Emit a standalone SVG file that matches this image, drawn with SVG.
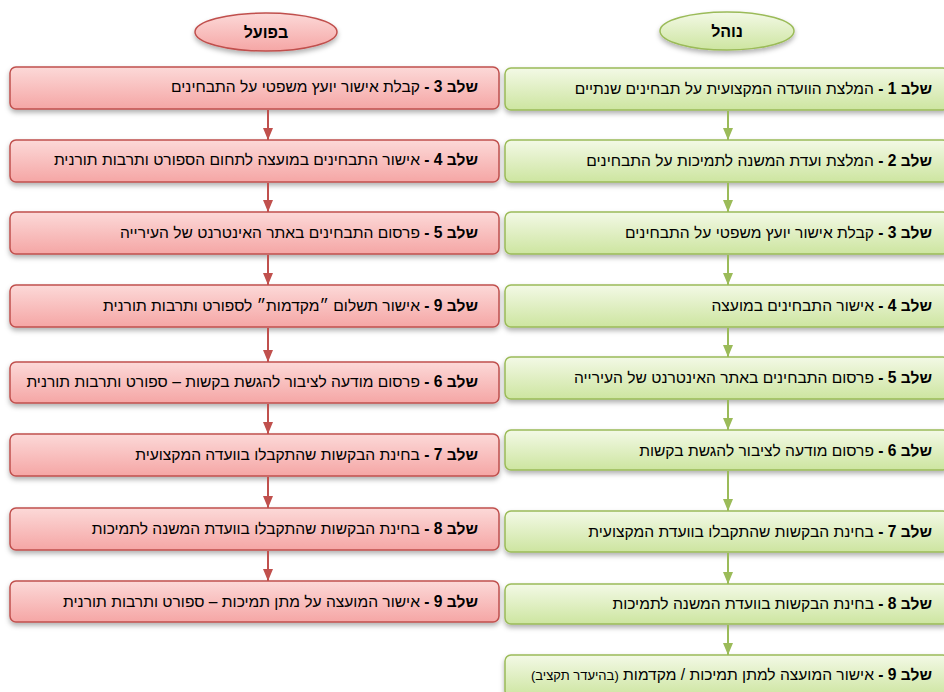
<svg xmlns="http://www.w3.org/2000/svg" width="944" height="692" viewBox="0 0 944 692">
<defs>
<linearGradient id="gp" x1="0" y1="0" x2="0" y2="1"><stop offset="0" stop-color="#fcd9d8"/><stop offset="1" stop-color="#f5a6a5"/></linearGradient>
<linearGradient id="gg" x1="0" y1="0" x2="0" y2="1"><stop offset="0" stop-color="#f3f9e6"/><stop offset="1" stop-color="#cde5a0"/></linearGradient>
<filter id="sh" x="-5%" y="-20%" width="110%" height="150%"><feDropShadow dx="0" dy="3" stdDeviation="2.5" flood-color="#000" flood-opacity="0.3"/></filter>
<marker id="ar" viewBox="0 0 12 10" refX="12" refY="5" markerWidth="12" markerHeight="10" markerUnits="userSpaceOnUse" orient="auto"><path d="M0,0 L12,5 L0,10 Z" fill="#c0504d"/></marker>
<marker id="ag" viewBox="0 0 12 10" refX="12" refY="5" markerWidth="12" markerHeight="10" markerUnits="userSpaceOnUse" orient="auto"><path d="M0,0 L12,5 L0,10 Z" fill="#9bbb59"/></marker>
</defs>
<style>
.p{fill:url(#gp);stroke:#c0504d;stroke-width:1.5;filter:url(#sh)}
.g{fill:url(#gg);stroke:#9bbb59;stroke-width:1.5;filter:url(#sh)}
text{font-family:"Liberation Sans","DejaVu Sans",sans-serif;font-size:15.6px;fill:#000;direction:rtl;unicode-bidi:embed}
.b{font-weight:bold}
.h{font-size:16px;font-weight:bold;text-anchor:middle}
.s{font-size:13px}
.cr{stroke:#c0504d;stroke-width:2;fill:none;marker-end:url(#ar)}
.cg{stroke:#9bbb59;stroke-width:2;fill:none;marker-end:url(#ag)}
</style>
<rect width="944" height="692" fill="#fff"/>
<g id="hdr-left"><ellipse class="p" cx="266" cy="32" rx="71" ry="19"/><text class="h" x="266" y="38">בפועל</text></g>
<g id="hdr-right"><ellipse class="g" cx="727" cy="31" rx="67" ry="19"/><text class="h" x="727" y="37">נוהל</text></g>

<g id="L1"><rect class="p" x="10" y="67" width="489" height="42" rx="6"/><text x="478" y="92"><tspan class="b">שלב 3 -</tspan> קבלת אישור יועץ משפטי על התבחינים</text></g>
<g id="L2"><rect class="p" x="10" y="140" width="489" height="42" rx="6"/><text x="478" y="165"><tspan class="b">שלב 4 -</tspan> אישור התבחינים במועצה לתחום הספורט ותרבות תורנית</text></g>
<g id="L3"><rect class="p" x="10" y="212" width="489" height="42" rx="6"/><text x="478" y="238"><tspan class="b">שלב 5 -</tspan> פרסום התבחינים באתר האינטרנט של העירייה</text></g>
<g id="L4"><rect class="p" x="10" y="285" width="489" height="42" rx="6"/><text x="478" y="311"><tspan class="b">שלב 9 -</tspan> אישור תשלום ״מקדמות״ לספורט ותרבות תורנית</text></g>
<g id="L5"><rect class="p" x="10" y="362" width="489" height="41" rx="6"/><text x="478" y="387"><tspan class="b">שלב 6 -</tspan> פרסום מודעה לציבור להגשת בקשות – ספורט ותרבות תורנית</text></g>
<g id="L6"><rect class="p" x="10" y="434" width="489" height="42" rx="6"/><text x="478" y="460"><tspan class="b">שלב 7 -</tspan> בחינת הבקשות שהתקבלו בוועדה המקצועית</text></g>
<g id="L7"><rect class="p" x="10" y="508" width="489" height="42" rx="6"/><text x="478" y="534"><tspan class="b">שלב 8 -</tspan> בחינת הבקשות שהתקבלו בוועדת המשנה לתמיכות</text></g>
<g id="L8"><rect class="p" x="10" y="581" width="489" height="41" rx="6"/><text x="478" y="607"><tspan class="b">שלב 9 -</tspan> אישור המועצה על מתן תמיכות – ספורט ותרבות תורנית</text></g>

<g id="R1"><rect class="g" x="505" y="68" width="444" height="42" rx="6"/><text x="932" y="94"><tspan class="b">שלב 1 -</tspan> המלצת הוועדה המקצועית על תבחינים שנתיים</text></g>
<g id="R2"><rect class="g" x="505" y="140" width="444" height="42" rx="6"/><text x="932" y="166"><tspan class="b">שלב 2 -</tspan> המלצת ועדת המשנה לתמיכות על התבחינים</text></g>
<g id="R3"><rect class="g" x="505" y="212" width="444" height="42" rx="6"/><text x="932" y="238"><tspan class="b">שלב 3 -</tspan> קבלת אישור יועץ משפטי על התבחינים</text></g>
<g id="R4"><rect class="g" x="505" y="285" width="444" height="42" rx="6"/><text x="932" y="311"><tspan class="b">שלב 4 -</tspan> אישור התבחינים במועצה</text></g>
<g id="R5"><rect class="g" x="505" y="357" width="444" height="42" rx="6"/><text x="932" y="383"><tspan class="b">שלב 5 -</tspan> פרסום התבחינים באתר האינטרנט של העירייה</text></g>
<g id="R6"><rect class="g" x="505" y="430" width="444" height="40" rx="6"/><text x="932" y="456"><tspan class="b">שלב 6 -</tspan> פרסום מודעה לציבור להגשת בקשות</text></g>
<g id="R7"><rect class="g" x="505" y="511" width="444" height="41" rx="6"/><text x="932" y="537"><tspan class="b">שלב 7 -</tspan> בחינת הבקשות שהתקבלו בוועדת המקצועית</text></g>
<g id="R8"><rect class="g" x="505" y="584" width="444" height="40" rx="6"/><text x="932" y="609"><tspan class="b">שלב 8 -</tspan> בחינת הבקשות בוועדת המשנה לתמיכות</text></g>
<g id="R9"><rect class="g" x="505" y="655" width="444" height="42" rx="6"/><text x="932" y="680"><tspan class="b">שלב 9 -</tspan> אישור המועצה למתן תמיכות / מקדמות <tspan class="s">(בהיעדר תקציב)</tspan></text></g>

<g id="connectors">
<line class="cr" x1="268" y1="110" x2="268" y2="140"/>
<line class="cr" x1="268" y1="183" x2="268" y2="212"/>
<line class="cr" x1="268" y1="255" x2="268" y2="285"/>
<line class="cr" x1="268" y1="328" x2="268" y2="362"/>
<line class="cr" x1="268" y1="404" x2="268" y2="434"/>
<line class="cr" x1="268" y1="477" x2="268" y2="508"/>
<line class="cr" x1="268" y1="551" x2="268" y2="581"/>
<line class="cg" x1="728" y1="111" x2="728" y2="140"/>
<line class="cg" x1="728" y1="183" x2="728" y2="212"/>
<line class="cg" x1="728" y1="255" x2="728" y2="285"/>
<line class="cg" x1="728" y1="328" x2="728" y2="357"/>
<line class="cg" x1="728" y1="400" x2="728" y2="430"/>
<line class="cg" x1="728" y1="471" x2="728" y2="511"/>
<line class="cg" x1="728" y1="553" x2="728" y2="584"/>
<line class="cg" x1="728" y1="625" x2="728" y2="655"/>
</g>
</svg>
